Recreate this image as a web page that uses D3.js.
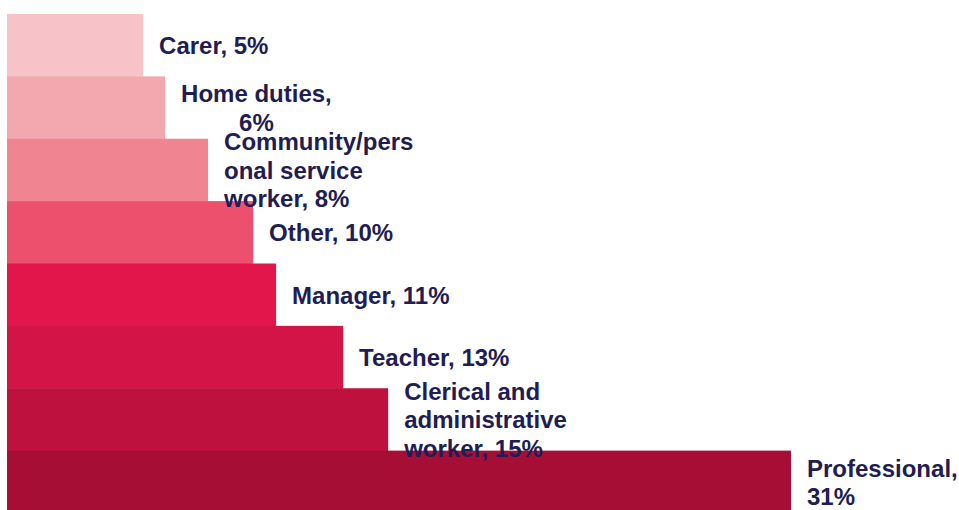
<!DOCTYPE html>
<html>
<head>
<meta charset="utf-8">
<script src="https://cdn.jsdelivr.net/npm/d3@7"></script>
<style>
  html, body { margin: 0; padding: 0; background: #fff; }
  svg { display: block; }
</style>
</head>
<body>
<svg id="chart" width="959" height="510"></svg>
<script>
// Occupation categories, top to bottom
const categories = [
  "Carer",
  "Home duties",
  "Community/personal service worker",
  "Other",
  "Manager",
  "Teacher",
  "Clerical and administrative worker",
  "Professional"
];

// Share of respondents (%)
const shares = [5.38, 6.25, 7.95, 9.73, 10.64, 13.29, 15.07, 31.0];

// Label text broken into lines, as printed beside each bar
const labelLines = [
  ["Carer, 5%"],
  ["Home duties,", "6%"],
  ["Community/pers", "onal service", "worker, 8%"],
  ["Other, 10%"],
  ["Manager, 11%"],
  ["Teacher, 13%"],
  ["Clerical and", "administrative", "worker, 15%"],
  ["Professional,", "31%"]
];

const barColors = [
  "#f7c3c8", "#f3a7ae", "#f08490", "#ed506c",
  "#e3164c", "#d31446", "#be113e", "#a60e36"
];

const rows = categories.map((c, i) => ({
  category: c,
  value: shares[i],
  lines: labelLines[i],
  color: barColors[i]
}));

const width = 959, height = 510;
const svg = d3.select("#chart");

const x = d3.scaleLinear()
  .domain([0, d3.max(shares)])
  .range([7, 791]);

const y = d3.scaleBand()
  .domain(categories)
  .range([14, 513])
  .padding(0);

// Bars sit flush against each other, forming a stepped pyramid
svg.append("g")
  .selectAll("rect")
  .data(rows)
  .join("rect")
    .attr("x", x(0))
    .attr("y", d => y(d.category))
    .attr("width", d => x(d.value) - x(0))
    .attr("height", y.bandwidth() + 0.5)
    .attr("fill", d => d.color);

// Labels to the right of each bar end
const lineGap = 28.5;
const centered = new Set(["Home duties"]);

const labels = svg.append("g")
  .attr("font-family", "'Liberation Sans', Arial, Helvetica, sans-serif")
  .attr("font-weight", "bold")
  .attr("font-size", "24px")
  .attr("fill", "#211c52")
  .selectAll("text")
  .data(rows)
  .join("text")
    .attr("text-anchor", d => centered.has(d.category) ? "middle" : "start");

labels.each(function(d) {
  const t = d3.select(this);
  const cy = y(d.category) + y.bandwidth() / 2;
  const n = d.lines.length;
  const left = x(d.value) + 16;
  let anchorX = left;
  if (centered.has(d.category)) {
    // centre the lines on the widest one
    const tmp = t.append("tspan").text(d.lines[0]);
    const w = tmp.node().getComputedTextLength();
    tmp.remove();
    anchorX = left + w / 2;
  }
  d.lines.forEach((line, i) => {
    t.append("tspan")
      .attr("x", anchorX)
      .attr("y", cy + 9 + (i - (n - 1) / 2) * lineGap)
      .text(line);
  });
});
</script>
</body>
</html>
